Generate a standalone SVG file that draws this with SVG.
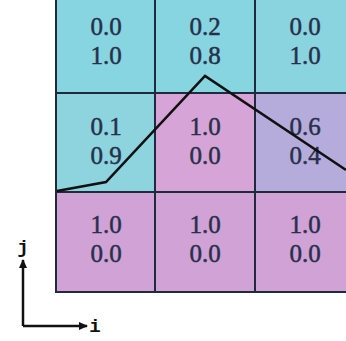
<svg xmlns="http://www.w3.org/2000/svg" width="346" height="341" viewBox="0 0 346 341">
<style>
.t{font-family:"Liberation Serif","Times New Roman",serif;font-size:25px;fill:#27304a;stroke:#27304a;stroke-width:0.5;text-anchor:middle}
.g{stroke:#1f2a3c;stroke-width:2;fill:none}
.ax{font-family:"Liberation Mono","DejaVu Sans Mono",monospace;font-size:19px;font-weight:bold;fill:#111;text-anchor:middle}
</style>
<defs>
<marker id="ah" markerWidth="9" markerHeight="8" refX="8" refY="4" orient="auto" markerUnits="userSpaceOnUse">
<path d="M0,0 L9,4 L0,8 Z" fill="#111"/>
</marker>
</defs>
<rect width="346" height="341" fill="#fff"/>
<g id="c00"><rect x="56" y="-5" width="99" height="98" fill="#87d5e0"/><text class="t" x="106" y="35">0.0</text><text class="t" x="106" y="64">1.0</text></g>
<g id="c10"><rect x="155" y="-5" width="100" height="98" fill="#87d5e0"/><text class="t" x="205" y="35">0.2</text><text class="t" x="205" y="64">0.8</text></g>
<g id="c20"><rect x="255" y="-5" width="100" height="98" fill="#8ad4e0"/><text class="t" x="305" y="35">0.0</text><text class="t" x="305" y="64">1.0</text></g>
<g id="c01"><rect x="56" y="93" width="99" height="99" fill="#8dd4de"/><text class="t" x="106" y="135">0.1</text><text class="t" x="106" y="164">0.9</text></g>
<g id="c11"><rect x="155" y="93" width="100" height="99" fill="#d6a4d6"/><text class="t" x="205" y="135">1.0</text><text class="t" x="205" y="164">0.0</text></g>
<g id="c21"><rect x="255" y="93" width="100" height="99" fill="#b6acdb"/><text class="t" x="305" y="135">0.6</text><text class="t" x="305" y="164">0.4</text></g>
<g id="c02"><rect x="56" y="192" width="99" height="100" fill="#d0a2d6"/><text class="t" x="106" y="233">1.0</text><text class="t" x="106" y="262">0.0</text></g>
<g id="c12"><rect x="155" y="192" width="100" height="100" fill="#d0a2d6"/><text class="t" x="205" y="233">1.0</text><text class="t" x="205" y="262">0.0</text></g>
<g id="c22"><rect x="255" y="192" width="100" height="100" fill="#d0a2d6"/><text class="t" x="305" y="233">1.0</text><text class="t" x="305" y="262">0.0</text></g>
<g id="grid" class="g">
<path d="M56,-2 V292 H350 M155,-2 V292 M255,-2 V292 M56,93 H350 M56,192 H350"/>
</g>
<g id="connectors">
<polyline points="57,191 106,182 205,76 346,170" fill="none" stroke="#111" stroke-width="2.5" stroke-linejoin="miter"/>
<path d="M23,326 V260" stroke="#111" stroke-width="2.5" fill="none" marker-end="url(#ah)"/>
<path d="M23,326 H87" stroke="#111" stroke-width="2.5" fill="none" marker-end="url(#ah)"/>
</g>
<g id="labels">
<text class="ax" x="23" y="253">j</text>
<text class="ax" x="95" y="332">i</text>
</g>
</svg>
